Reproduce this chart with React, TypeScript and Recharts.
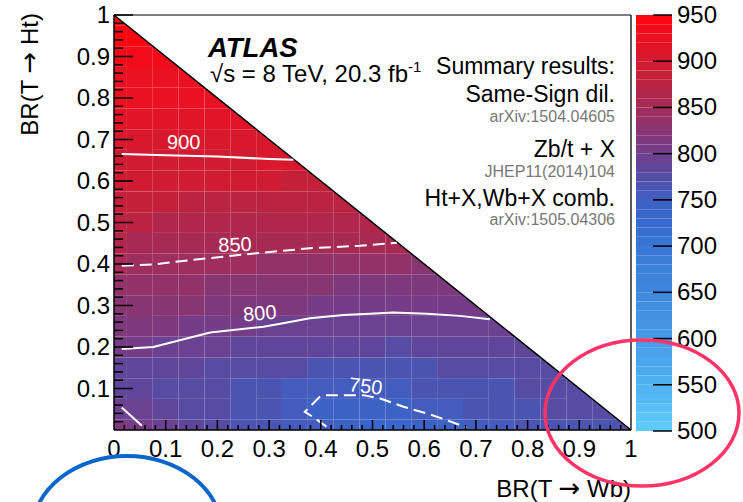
import React from 'react';
import {
  ComposedChart,
  XAxis,
  YAxis,
  Scatter,
  ReferenceArea,
  ReferenceLine,
  ReferenceDot,
} from 'recharts';

const W = 743;
const H = 502;
const FONT = '"Liberation Sans", Arial, Helvetica, sans-serif';
const MAIN_MARGIN = { top: 15, right: 112, bottom: 0, left: 0 };
const Y_AXIS_W = 114;
const X_AXIS_H = 72;
// plot box that the margins/axis sizes above produce
const PLOT_LEFT = MAIN_MARGIN.left + Y_AXIS_W;
const PLOT_W = W - MAIN_MARGIN.right - PLOT_LEFT;
const PLOT_BOTTOM = H - MAIN_MARGIN.bottom - X_AXIS_H;
const PLOT_H = PLOT_BOTTOM - MAIN_MARGIN.top;

// bins are centred on multiples of 0.05 in both directions
const BIN = 0.05;

// observed T mass limit [GeV], one array per BR(T -> Ht) row,
// columns are BR(T -> Wb) = 0, 0.05, 0.10, ... up to the kinematic edge
const limitsHt000 = [810, 800, 790, 782, 775, 768, 762, 755, 751, 742, 736, 736, 740, 746, 752, 757, 761, 764, 767, 769, 770];
const limitsHt005 = [798, 790, 782, 776, 771, 766, 761, 753, 746, 742, 741, 747, 752, 756, 760, 764, 767, 770, 773, 776];
const limitsHt010 = [786, 783, 779, 775, 771, 768, 764, 759, 753, 753, 755, 758, 761, 764, 766, 768, 770, 772, 774];
const limitsHt015 = [787, 786, 784, 780, 777, 774, 772, 770, 768, 767, 767, 768, 769, 770, 772, 774, 776, 778];
const limitsHt020 = [801, 801, 799, 795, 791, 789, 787, 785, 783, 781, 780, 779, 780, 781, 782, 783, 784];
const limitsHt025 = [814, 813, 811, 807, 803, 801, 799, 797, 795, 793, 792, 791, 792, 793, 794, 796];
const limitsHt030 = [826, 826, 824, 820, 816, 814, 812, 810, 807, 806, 805, 804, 805, 806, 807];
const limitsHt035 = [838, 837, 835, 832, 829, 826, 824, 822, 820, 818, 817, 816, 816, 817];
const limitsHt040 = [850, 849, 847, 845, 843, 840, 838, 836, 834, 832, 831, 830, 829];
const limitsHt045 = [860, 859, 858, 857, 856, 855, 855, 854, 853, 852, 852, 851];
const limitsHt050 = [870, 870, 869, 869, 868, 868, 867, 867, 866, 866, 865];
const limitsHt055 = [880, 880, 880, 879, 879, 879, 878, 878, 878, 877];
const limitsHt060 = [890, 890, 890, 890, 890, 890, 890, 889, 889];
const limitsHt065 = [897, 897, 898, 898, 899, 899, 900, 900];
const limitsHt070 = [906, 906, 906, 907, 907, 907, 907];
const limitsHt075 = [914, 914, 914, 914, 914, 914];
const limitsHt080 = [921, 921, 921, 921, 921];
const limitsHt085 = [928, 928, 928, 928];
const limitsHt090 = [935, 935, 935];
const limitsHt095 = [942, 942];
const limitsHt100 = [948];

const limitRows = [
  limitsHt000, limitsHt005, limitsHt010, limitsHt015, limitsHt020, limitsHt025, limitsHt030,
  limitsHt035, limitsHt040, limitsHt045, limitsHt050, limitsHt055, limitsHt060, limitsHt065,
  limitsHt070, limitsHt075, limitsHt080, limitsHt085, limitsHt090, limitsHt095, limitsHt100,
];

// iso-limit contours (x = BR(T->Wb), y = BR(T->Ht))
const contour900 = [
  { x: 0.015, y: 0.665 }, { x: 0.1, y: 0.662 }, { x: 0.2, y: 0.659 }, { x: 0.3, y: 0.653 }, { x: 0.347, y: 0.651 },
];
const contour850 = [
  { x: 0.015, y: 0.396 }, { x: 0.076, y: 0.399 }, { x: 0.153, y: 0.41 }, { x: 0.276, y: 0.426 },
  { x: 0.379, y: 0.438 }, { x: 0.476, y: 0.444 }, { x: 0.547, y: 0.451 },
];
const contour800 = [
  { x: 0.015, y: 0.195 }, { x: 0.076, y: 0.2 }, { x: 0.186, y: 0.235 }, { x: 0.289, y: 0.249 },
  { x: 0.327, y: 0.257 }, { x: 0.379, y: 0.269 }, { x: 0.444, y: 0.277 }, { x: 0.495, y: 0.28 },
  { x: 0.54, y: 0.283 }, { x: 0.605, y: 0.28 }, { x: 0.669, y: 0.275 }, { x: 0.727, y: 0.267 },
];
const contour800Corner = [{ x: 0.015, y: 0.054 }, { x: 0.054, y: 0.01 }];
const contour750 = [
  { x: 0.411, y: 0.008 }, { x: 0.389, y: 0.028 }, { x: 0.369, y: 0.044 }, { x: 0.398, y: 0.08 },
  { x: 0.405, y: 0.084 }, { x: 0.482, y: 0.084 }, { x: 0.515, y: 0.076 }, { x: 0.56, y: 0.056 },
  { x: 0.605, y: 0.04 }, { x: 0.643, y: 0.024 }, { x: 0.682, y: 0.006 },
];

const contourLabels = [
  { x: 0.135, y: 0.695, text: '900', angle: 0 },
  { x: 0.234, y: 0.447, text: '850', angle: -2 },
  { x: 0.282, y: 0.282, text: '800', angle: -5 },
  { x: 0.487, y: 0.106, text: '750', angle: 7 },
];

const xTicks = [0, 0.1, 0.2, 0.3, 0.4, 0.5, 0.6, 0.7, 0.8, 0.9, 1];
const yTicks = [0.1, 0.2, 0.3, 0.4, 0.5, 0.6, 0.7, 0.8, 0.9, 1];
const zTicks = [500, 550, 600, 650, 700, 750, 800, 850, 900, 950];
const Z_MIN = 500;
const Z_MAX = 950;

// palette (ROOT-like blue -> purple -> red)
const paletteStops: [number, number[]][] = [
  [500, [95, 205, 252]],
  [550, [80, 178, 240]],
  [600, [70, 155, 230]],
  [650, [62, 136, 220]],
  [700, [57, 119, 212]],
  [725, [54, 106, 206]],
  [750, [62, 96, 196]],
  [775, [86, 76, 164]],
  [800, [112, 62, 140]],
  [825, [136, 54, 114]],
  [850, [162, 44, 88]],
  [875, [186, 36, 66]],
  [900, [212, 26, 46]],
  [925, [234, 18, 34]],
  [950, [255, 4, 14]],
];

function massColor(v: number) {
  const q = Math.min(Z_MAX - 5, Math.max(Z_MIN + 5, Math.floor((v - Z_MIN) / 10) * 10 + Z_MIN + 5));
  let k = 0;
  while (k < paletteStops.length - 2 && q > paletteStops[k + 1][0]) k++;
  const [v0, c0] = paletteStops[k];
  const [v1, c1] = paletteStops[k + 1];
  const t = (q - v0) / (v1 - v0);
  return `rgb(${c0.map((c, i) => Math.round(c + (c1[i] - c) * t)).join(',')})`;
}

const cells = limitRows.flatMap((row, j) =>
  row.map((v, i) => {
    const cx = i * BIN;
    const cy = j * BIN;
    return {
      key: `${i}-${j}`,
      x1: Math.max(0, cx - BIN / 2),
      x2: Math.min(1, cx + BIN / 2),
      y1: Math.max(0, cy - BIN / 2),
      y2: Math.min(1, cy + BIN / 2),
      fill: massColor(v),
      diag: i + j === 20,
    };
  })
);

// colour bar bands
const zBands: { lo: number; hi: number }[] = [];
for (let z = Z_MIN; z < Z_MAX; z += 10) zBands.push({ lo: z, hi: z + 10 });

const majorMarks = [0.1, 0.2, 0.3, 0.4, 0.5, 0.6, 0.7, 0.8, 0.9];
const minorMarks: number[] = [];
for (let k = 1; k < 50; k++) if (k % 5 !== 0) minorMarks.push(k / 50);

// same linear mapping as the plot box, used for the inward ROOT-style tick marks
const sx = (v: number) => PLOT_LEFT + v * PLOT_W;
const sy = (v: number) => PLOT_BOTTOM - v * PLOT_H;

const fmt = (v: number) => (v === 0 ? '0' : v === 1 ? '1' : v.toFixed(1));

const XTick = (p: any) => (
  <text x={p.x} y={p.y + 27} textAnchor="middle" fontFamily={FONT} fontSize={24} fill="#000">
    {fmt(p.payload.value)}
  </text>
);
const YTick = (p: any) => (
  <text x={p.x - 4} y={p.y + 8} textAnchor="end" fontFamily={FONT} fontSize={24} fill="#000">
    {fmt(p.payload.value)}
  </text>
);
const ZTick = (p: any) => (
  <text x={p.x + 24} y={p.y + 8} textAnchor="start" fontFamily={FONT} fontSize={24} fill="#000">
    {p.payload.value}
  </text>
);

const TriCell = (p: any) => (
  <path
    d={`M${p.x},${p.y} L${p.x + p.width},${p.y + p.height} L${p.x},${p.y + p.height} Z`}
    fill={p.fill}
  />
);

const noDot = () => <g />;
const tickStroke = { stroke: '#000', strokeWidth: 1.5 };
const whiteLine = { stroke: '#fff', strokeWidth: 2, fill: 'none' };
const whiteDash = { stroke: '#fff', strokeWidth: 2, fill: 'none', strokeDasharray: '12 6' };
const layer: React.CSSProperties = { position: 'absolute', left: 0, top: 0 };

export default function App() {
  return (
    <div style={{ position: 'absolute', left: 0, top: 0, width: W, height: H, background: '#fff' }}>
      {/* heat map + contours */}
      <div style={layer}>
        <ComposedChart width={W} height={H} margin={MAIN_MARGIN}>
          <XAxis
            type="number"
            dataKey="x"
            domain={[0, 1]}
            allowDataOverflow
            ticks={xTicks}
            interval={0}
            height={X_AXIS_H}
            tickSize={0}
            tickMargin={0}
            tickLine={false}
            tick={<XTick />}
            axisLine={{ stroke: '#000', strokeWidth: 1.5 }}
          />
          <YAxis
            type="number"
            dataKey="y"
            domain={[0, 1]}
            allowDataOverflow
            ticks={yTicks}
            interval={0}
            width={Y_AXIS_W}
            tickSize={0}
            tickMargin={0}
            tickLine={false}
            tick={<YTick />}
            axisLine={{ stroke: '#000', strokeWidth: 1.5 }}
          />
          {cells.map((c) => (
            <ReferenceArea
              key={c.key}
              x1={c.x1}
              x2={c.x2}
              y1={c.y1}
              y2={c.y2}
              fill={c.fill}
              fillOpacity={1}
              stroke="none"
              ifOverflow="hidden"
              shape={c.diag ? TriCell : undefined}
            />
          ))}
          <ReferenceLine segment={[{ x: 0, y: 1 }, { x: 1, y: 0 }]} stroke="#000" strokeWidth={1.5} />
          <ReferenceLine y={1} stroke="#555" strokeWidth={1.5} />
          <ReferenceLine x={1} stroke="#222" strokeWidth={1.5} />
          <Scatter data={contour900} dataKey="y" line={whiteLine} lineType="joint" shape={noDot} isAnimationActive={false} />
          <Scatter data={contour850} dataKey="y" line={whiteDash} lineType="joint" shape={noDot} isAnimationActive={false} />
          <Scatter data={contour800} dataKey="y" line={whiteLine} lineType="joint" shape={noDot} isAnimationActive={false} />
          <Scatter data={contour800Corner} dataKey="y" line={whiteLine} lineType="joint" shape={noDot} isAnimationActive={false} />
          <Scatter data={contour750} dataKey="y" line={whiteDash} lineType="joint" shape={noDot} isAnimationActive={false} />
          {contourLabels.map((l) => (
            <ReferenceDot
              key={l.text}
              x={l.x}
              y={l.y}
              r={0}
              shape={(p: any) => (
                <text
                  x={p.cx}
                  y={p.cy + 7}
                  textAnchor="middle"
                  fontFamily={FONT}
                  fontSize={20}
                  fill="#fff"
                  transform={`rotate(${l.angle} ${p.cx} ${p.cy})`}
                >
                  {l.text}
                </text>
              )}
            />
          ))}
        </ComposedChart>
      </div>

      {/* colour bar */}
      <div style={layer}>
        <ComposedChart width={W} height={H} margin={{ top: 15, right: 0, bottom: 71, left: 636 }}>
          <XAxis type="number" dataKey="x" domain={[0, 1]} hide />
          <YAxis
            type="number"
            dataKey="y"
            orientation="right"
            domain={[Z_MIN, Z_MAX]}
            allowDataOverflow
            ticks={zTicks}
            interval={0}
            width={71}
            tickSize={-19}
            tickMargin={0}
            tickLine={tickStroke}
            axisLine={false}
            tick={<ZTick />}
          />
          {zBands.map((b) => (
            <ReferenceArea
              key={b.lo}
              x1={0}
              x2={1}
              y1={b.lo}
              y2={b.hi}
              fill={massColor(b.lo + 5)}
              fillOpacity={1}
              stroke="none"
            />
          ))}
          <Scatter data={[{ x: 0.5, y: 725 }]} dataKey="y" shape={noDot} isAnimationActive={false} />
        </ComposedChart>
      </div>

      <svg width={W} height={H} style={{ ...layer, pointerEvents: 'none' }}>
        {/* ROOT-style tick marks pointing into the frame */}
        <g stroke="#000" strokeWidth={1.5}>
          {majorMarks.map((v) => (
            <line key={`xM${v}`} x1={sx(v)} x2={sx(v)} y1={PLOT_BOTTOM} y2={PLOT_BOTTOM - 10} />
          ))}
          {minorMarks.map((v) => (
            <line key={`xm${v}`} x1={sx(v)} x2={sx(v)} y1={PLOT_BOTTOM} y2={PLOT_BOTTOM - 5} />
          ))}
          {yTicks.map((v) => (
            <line key={`yM${v}`} x1={PLOT_LEFT} x2={PLOT_LEFT + 19} y1={sy(v)} y2={sy(v)} />
          ))}
          {minorMarks.map((v) => (
            <line key={`ym${v}`} x1={PLOT_LEFT} x2={PLOT_LEFT + 9} y1={sy(v)} y2={sy(v)} />
          ))}
        </g>
        <g fontFamily={FONT}>
          <text x={208} y={57} fontSize={27.5} fontWeight="bold" fontStyle="italic">ATLAS</text>
          <text x={210} y={82} fontSize={24}>
            √s = 8 TeV, 20.3 fb
            <tspan dy={-10} fontSize={15}>-1</tspan>
          </text>
          <g textAnchor="end">
            <text x={615} y={74} fontSize={23}>Summary results:</text>
            <text x={615} y={102} fontSize={23}>Same-Sign dil.</text>
            <text x={615} y={122} fontSize={16} fill="#777">arXiv:1504.04605</text>
            <text x={615} y={157} fontSize={23}>Zb/t + X</text>
            <text x={615} y={177} fontSize={16} fill="#777">JHEP11(2014)104</text>
            <text x={615} y={206} fontSize={23}>Ht+X,Wb+X comb.</text>
            <text x={615} y={225} fontSize={16} fill="#777">arXiv:1505.04306</text>
          </g>
          <text x={631} y={497} fontSize={24} textAnchor="end">
            BR(T <tspan fontFamily='"DejaVu Sans"' fontSize={26}>→</tspan> Wb)
          </text>
          <text transform="translate(38,13) rotate(-90)" fontSize={24} textAnchor="end">
            BR(T <tspan fontFamily='"DejaVu Sans"' fontSize={26}>→</tspan> Ht)
          </text>
        </g>
        <ellipse cx={642} cy={413} rx={97} ry={73} fill="none" stroke="#ff3366" strokeWidth={3.5} />
        <ellipse cx={127} cy={532} rx={95} ry={76} fill="none" stroke="#0a66cc" strokeWidth={4} />
      </svg>
    </div>
  );
}
